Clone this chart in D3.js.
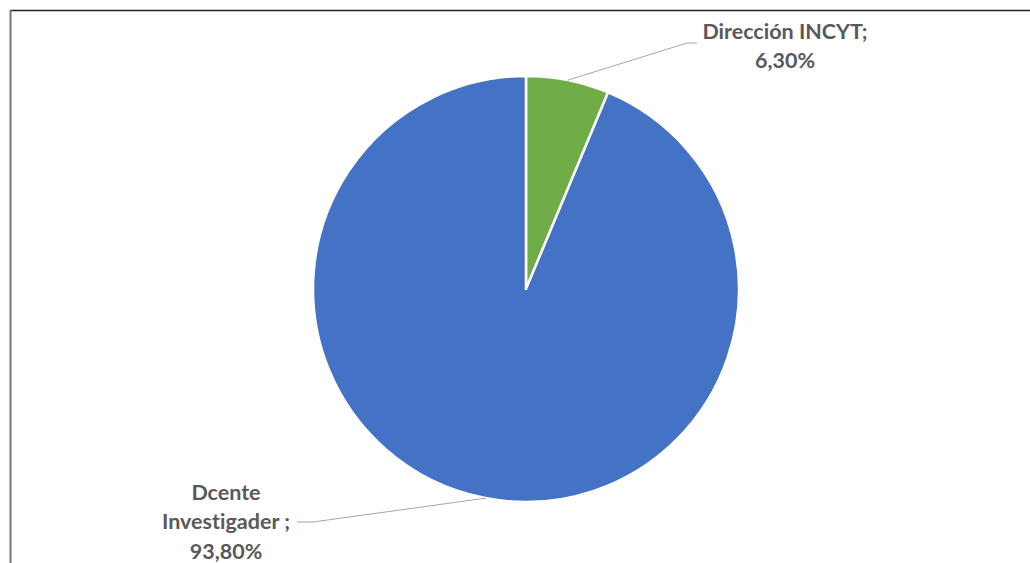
<!DOCTYPE html>
<html>
<head>
<meta charset="utf-8">
<script src="https://cdn.jsdelivr.net/npm/d3@7"></script>
<style>
  html, body { margin: 0; padding: 0; background: #fff; }
  svg { display: block; }
</style>
</head>
<body>
<div id="chart"></div>
<script>
// Data
const categories = ['Dirección INCYT', 'Dcente Investigader'];
const values     = [6.3, 93.8];
const labelLines = [['Dirección INCYT;', '6,30%'], ['Dcente', 'Investigader ;', '93,80%']];
const colors     = ['#70AD47', '#4472C4'];

const W = 1030, H = 563;
const cx = 526, cy = 289, r = 213;

const svg = d3.select('#chart').append('svg')
  .attr('width', W).attr('height', H);

// frame (only top and left edges show in the crop)
svg.append('line').attr('x1', 10).attr('x2', W).attr('y1', 10.5).attr('y2', 10.5)
  .attr('stroke', '#222').attr('stroke-width', 1.5);
svg.append('line').attr('x1', 10.5).attr('x2', 10.5).attr('y1', 10).attr('y2', H)
  .attr('stroke', '#777').attr('stroke-width', 2);

const pie = d3.pie().sort(null).value(d => d)(values);
const arc = d3.arc().innerRadius(0).outerRadius(r);

const g = svg.append('g').attr('transform', `translate(${cx},${cy})`);
g.selectAll('path').data(pie).join('path')
  .attr('d', arc)
  .attr('fill', (d, i) => colors[i])
  .attr('stroke', '#fff').attr('stroke-width', 2.5)
  .attr('stroke-linejoin', 'round');

// labels with leader lines
const labelPos = [
  { x: 785, y: 31, anchorPt: [697, 43], elbow: [687, 43] },
  { x: 226, y: 492, anchorPt: [297, 522], elbow: [313, 522] }
];

pie.forEach((d, i) => {
  const p = labelPos[i];
  // leader starts at slice midpoint for the small one, lower-left edge for the big one
  const ang = i === 0 ? (d.startAngle + d.endAngle) / 2 : Math.PI + 0.19;
  const ex = cx + Math.sin(ang) * r, ey = cy - Math.cos(ang) * r;
  svg.append('polyline')
    .attr('points', [[ex, ey], p.elbow, p.anchorPt].map(q => q.join(',')).join(' '))
    .attr('fill', 'none').attr('stroke', '#a6a6a6').attr('stroke-width', 1);

  const t = svg.append('text')
    .attr('x', p.x).attr('y', p.y)
    .attr('text-anchor', 'middle')
    .attr('font-family', 'Lato, "Open Sans", sans-serif')
    .attr('font-weight', 'bold').attr('font-size', 21.5)
    .style('font-variant-ligatures', 'none')
    .attr('fill', '#595959');
  labelLines[i].forEach((s, k) => {
    t.append('tspan').attr('x', p.x).attr('dy', k === 0 ? '0.35em' : 29.5).text(s);
  });
});
</script>
</body>
</html>
